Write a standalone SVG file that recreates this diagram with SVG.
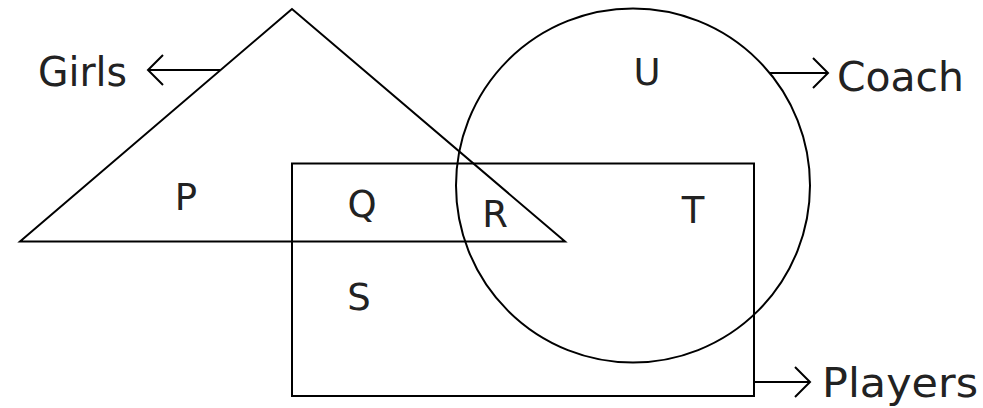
<svg xmlns="http://www.w3.org/2000/svg" width="983" height="408" viewBox="0 0 983 408">
<style>
.shape{fill:none;stroke:#000;stroke-width:2}
.conn{fill:none;stroke:#000;stroke-width:2}
.lbl{font-family:"DejaVu Sans","Verdana",sans-serif;font-size:40px;fill:#222}
.reg{font-family:"DejaVu Sans","Verdana",sans-serif;font-size:37px;fill:#222;text-anchor:middle}
</style>
<defs>
<marker id="chev" markerUnits="userSpaceOnUse" markerWidth="20" markerHeight="34" viewBox="-17 -16 20 32" refX="0" refY="0" orient="auto">
<path d="M-15,-15 L0,0 L-15,15" fill="none" stroke="#000" stroke-width="2"/>
</marker>
</defs>
<rect width="983" height="408" fill="#fff"/>
<g id="girls">
<polygon class="shape" points="292,9 20,241.5 565,241.5"/>
<text class="lbl" x="38" y="86" textLength="89" lengthAdjust="spacingAndGlyphs">Girls</text>
</g>
<g id="players">
<rect class="shape" x="292" y="163.5" width="462" height="232.5"/>
<text class="lbl" x="822" y="397" textLength="156" lengthAdjust="spacingAndGlyphs">Players</text>
</g>
<g id="coach">
<circle class="shape" cx="633" cy="185.5" r="177"/>
<text class="lbl" x="837" y="91" textLength="127" lengthAdjust="spacingAndGlyphs">Coach</text>
</g>
<g id="connectors">
<line class="conn" x1="220" y1="70" x2="148" y2="70" marker-end="url(#chev)"/>
<line class="conn" x1="769" y1="73" x2="828" y2="73" marker-end="url(#chev)"/>
<line class="conn" x1="754" y1="382" x2="810" y2="382" marker-end="url(#chev)"/>
</g>
<g id="regionP"><text class="reg" x="186" y="210">P</text></g>
<g id="regionQ"><text class="reg" x="362" y="217">Q</text></g>
<g id="regionR"><text class="reg" x="495" y="227">R</text></g>
<g id="regionS"><text class="reg" x="359" y="310">S</text></g>
<g id="regionT"><text class="reg" x="693" y="223">T</text></g>
<g id="regionU"><text class="reg" x="647" y="85">U</text></g>
</svg>
